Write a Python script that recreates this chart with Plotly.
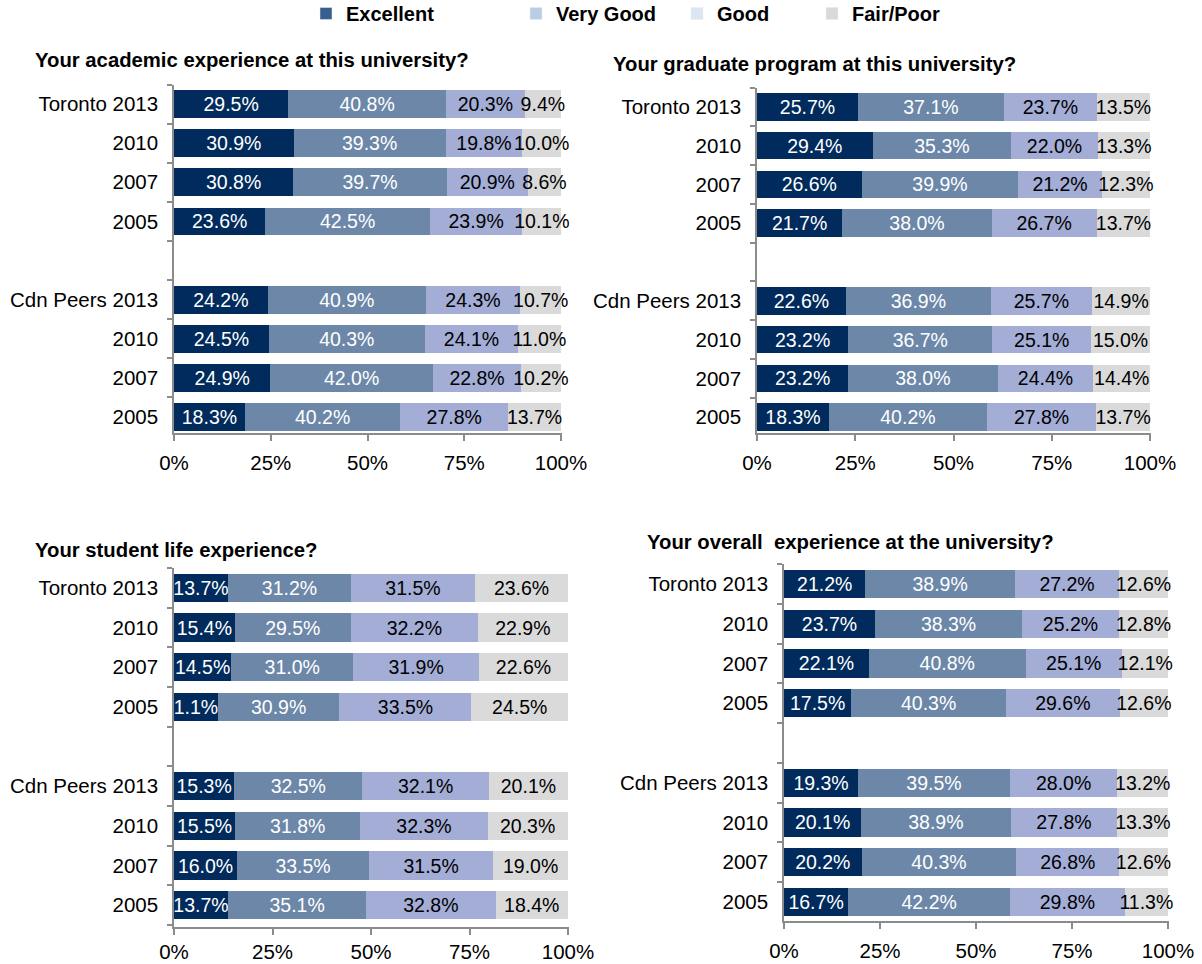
import plotly.graph_objects as go

W, H = 1202, 964

# ---------------- data ----------------
row_keys = ["T2013", "T2010", "T2007", "T2005", "C2013", "C2010", "C2007", "C2005"]
row_labels = ["Toronto 2013", "2010", "2007", "2005", "Cdn Peers 2013", "2010", "2007", "2005"]
gap_key = "gap"

series_names = ["Excellent", "Very Good", "Good", "Fair/Poor"]

academic_excellent = [29.5, 30.9, 30.8, 23.6, 24.2, 24.5, 24.9, 18.3]
academic_very_good = [40.8, 39.3, 39.7, 42.5, 40.9, 40.3, 42.0, 40.2]
academic_good = [20.3, 19.8, 20.9, 23.9, 24.3, 24.1, 22.8, 27.8]
academic_fair_poor = [9.4, 10.0, 8.6, 10.1, 10.7, 11.0, 10.2, 13.7]

graduate_excellent = [25.7, 29.4, 26.6, 21.7, 22.6, 23.2, 23.2, 18.3]
graduate_very_good = [37.1, 35.3, 39.9, 38.0, 36.9, 36.7, 38.0, 40.2]
graduate_good = [23.7, 22.0, 21.2, 26.7, 25.7, 25.1, 24.4, 27.8]
graduate_fair_poor = [13.5, 13.3, 12.3, 13.7, 14.9, 15.0, 14.4, 13.7]

student_excellent = [13.7, 15.4, 14.5, 11.1, 15.3, 15.5, 16.0, 13.7]
student_very_good = [31.2, 29.5, 31.0, 30.9, 32.5, 31.8, 33.5, 35.1]
student_good = [31.5, 32.2, 31.9, 33.5, 32.1, 32.3, 31.5, 32.8]
student_fair_poor = [23.6, 22.9, 22.6, 24.5, 20.1, 20.3, 19.0, 18.4]
# label as printed in the original chart
student_excellent_text = ["13.7%", "15.4%", "14.5%", "1.1%", "15.3%", "15.5%", "16.0%", "13.7%"]

overall_excellent = [21.2, 23.7, 22.1, 17.5, 19.3, 20.1, 20.2, 16.7]
overall_very_good = [38.9, 38.3, 40.8, 40.3, 39.5, 38.9, 40.3, 42.2]
overall_good = [27.2, 25.2, 25.1, 29.6, 28.0, 27.8, 26.8, 29.8]
overall_fair_poor = [12.6, 12.8, 12.1, 12.6, 13.2, 13.3, 12.6, 11.3]

x_tick_vals = [0, 25, 50, 75, 100]
x_tick_text = ["0%", "25%", "50%", "75%", "100%"]

# ---------------- styles ----------------
FONT = "Liberation Sans, Arial, sans-serif"
bar_colors = ["#002B5C", "#6C87A8", "#A3ADD6", "#DADADA"]
legend_colors = ["#3A5E8E", "#B9CDE5", "#DCE6F2", "#D9D9D9"]
text_colors = ["white", "white", "black", "black"]
AXIS_COLOR = "#8C8C8C"


def fx(px):
    return px / W


def fy(py):
    return 1 - py / H


def fmt(vals):
    return [f"{v:.1f}%" for v in vals]


panels = [
    dict(title="Your academic experience at this university?",
         series=[academic_excellent, academic_very_good, academic_good, academic_fair_poor],
         texts=[fmt(academic_excellent), fmt(academic_very_good), fmt(academic_good), fmt(academic_fair_poor)],
         xdom=(174, 562), ydom=(84.5, 433), yrange=[8.41, -0.5], standoff=5, title_pos=(33, 60)),
    dict(title="Your graduate program at this university?",
         series=[graduate_excellent, graduate_very_good, graduate_good, graduate_fair_poor],
         texts=[fmt(graduate_excellent), fmt(graduate_very_good), fmt(graduate_good), fmt(graduate_fair_poor)],
         xdom=(757, 1151), ydom=(87.5, 433), yrange=[8.41, -0.5], standoff=5, title_pos=(611, 64)),
    dict(title="Your student life experience?",
         series=[student_excellent, student_very_good, student_good, student_fair_poor],
         texts=[student_excellent_text, fmt(student_very_good), fmt(student_good), fmt(student_fair_poor)],
         xdom=(174, 569), ydom=(568, 927), yrange=[8.55, -0.5], standoff=0, title_pos=(33, 550)),
    dict(title="Your overall  experience at the university?",
         series=[overall_excellent, overall_very_good, overall_good, overall_fair_poor],
         texts=[fmt(overall_excellent), fmt(overall_very_good), fmt(overall_good), fmt(overall_fair_poor)],
         xdom=(784, 1169), ydom=(564, 921), yrange=[8.48, -0.5], standoff=5, title_pos=(645, 542)),
]

fig = go.Figure()
annotations = []
layout_axes = {}

for i, p in enumerate(panels):
    n = "" if i == 0 else str(i + 1)
    xa, ya = "x" + n, "y" + n
    for s in range(4):
        fig.add_trace(go.Bar(
            x=p["series"][s], y=row_keys, orientation="h",
            name=series_names[s], xaxis=xa, yaxis=ya,
            marker=dict(color=bar_colors[s], line=dict(width=0)),
            text=p["texts"][s], textposition="inside", insidetextanchor="middle",
            textangle=0, constraintext="none", cliponaxis=False,
            insidetextfont=dict(family=FONT, size=19.5, color=text_colors[s]),
            showlegend=False, hoverinfo="skip",
        ))
    layout_axes["xaxis" + n] = dict(
        domain=[fx(p["xdom"][0]), fx(p["xdom"][1])], anchor=ya,
        range=[0, 100.25], tickmode="array", tickvals=x_tick_vals, ticktext=x_tick_text,
        showgrid=False, zeroline=False, showline=True, linecolor=AXIS_COLOR, linewidth=1.5,
        ticks="outside", ticklen=6, tickcolor=AXIS_COLOR, tickwidth=1.5,
        ticklabelstandoff=p["standoff"], automargin=False,
        tickfont=dict(family=FONT, size=20.5, color="black"), fixedrange=True,
    )
    layout_axes["yaxis" + n] = dict(
        domain=[fy(p["ydom"][1]), fy(p["ydom"][0])], anchor=xa,
        type="category", categoryorder="array",
        categoryarray=row_keys[:4] + [gap_key] + row_keys[4:],
        tickmode="array", tickvals=row_keys[:4] + [gap_key] + row_keys[4:],
        ticktext=row_labels[:4] + [""] + row_labels[4:],
        range=p["yrange"], tickson="boundaries",
        showgrid=False, zeroline=False, showline=True, linecolor=AXIS_COLOR, linewidth=1.5,
        ticks="outside", ticklen=5, tickcolor=AXIS_COLOR, tickwidth=1.5,
        ticklabelstandoff=10, automargin=False,
        tickfont=dict(family=FONT, size=20.5, color="black"), fixedrange=True,
    )
    annotations.append(dict(
        text="<b>" + p["title"] + "</b>", xref="paper", yref="paper",
        x=fx(p["title_pos"][0]), y=fy(p["title_pos"][1]), xanchor="left", yanchor="middle",
        showarrow=False, font=dict(family=FONT, size=20.3, color="black"),
    ))

# legend entries (one legend per entry so they sit where the original places them)
legend_left_px = [306, 516, 677, 812]
legend_layout = {}
for s in range(4):
    lname = "legend" if s == 0 else f"legend{s + 1}"
    fig.add_trace(go.Bar(
        x=[None], y=[None], orientation="h", name="<b>" + series_names[s] + "</b>",
        marker=dict(color=legend_colors[s]), showlegend=True, legend=lname,
        xaxis="x", yaxis="y", hoverinfo="skip",
    ))
    legend_layout[lname] = dict(
        x=fx(legend_left_px[s]), y=fy(13.5), xanchor="left", yanchor="middle",
        xref="paper", yref="paper", bgcolor="rgba(0,0,0,0)", borderwidth=0,
        font=dict(family=FONT, size=20, color="black"), itemclick=False, itemdoubleclick=False,
    )

fig.update_layout(
    width=W, height=H, barmode="stack", bargap=0.29,
    margin=dict(l=0, r=0, t=0, b=0, pad=0, autoexpand=False),
    paper_bgcolor="white", plot_bgcolor="white",
    annotations=annotations,
    **layout_axes, **legend_layout,
)

fig.write_html(
    "out.html",
    config={"displayModeBar": False},
    post_script="document.body.style.margin='0';document.body.style.overflow='hidden';",
)
